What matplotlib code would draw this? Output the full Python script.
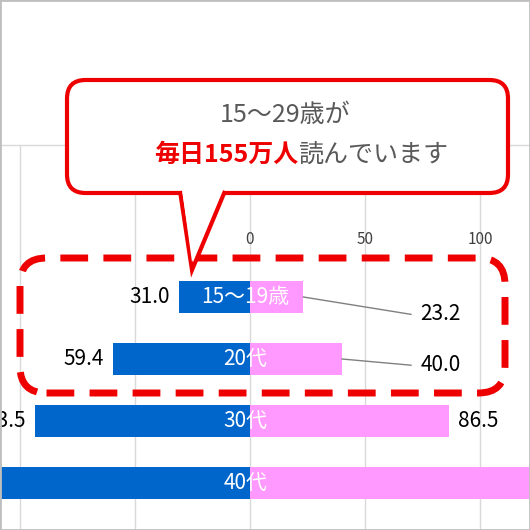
import matplotlib
matplotlib.use("Agg")
import matplotlib.pyplot as plt
from matplotlib.patches import FancyBboxPatch, Polygon

plt.rcParams['font.family'] = ['Noto Sans CJK JP', 'DejaVu Sans']

categories = ["15〜19歳", "20代", "30代", "40代"]
left_vals = [31.0, 59.4, 93.5, 120.0]
right_vals = [23.2, 40.0, 86.5, 130.0]
ticks = [0, 50, 100]

fig = plt.figure(figsize=(5.3, 5.3), dpi=100)
ax = fig.add_axes([0, 0, 1, 1])
ax.set_xlim(-250/2.3, 280/2.3)
ax.set_ylim((530-297)/62, -297/62)
ax.axis('off')

for g in [-100, -50, 0, 50, 100]:
    ax.plot([g, g], [-2.45, 3.8], color='#d9d9d9', lw=1, zorder=0)
ax.plot([-110, 125], [-2.45, -2.45], color='#d9d9d9', lw=1, zorder=0)
for t in ticks:
    ax.text(t, -0.92, str(t), ha='center', va='center', fontsize=11, color='#404040')

ys = list(range(len(categories)))
ax.barh(ys, [-v for v in left_vals], height=0.53, color='#0066cc', zorder=2)
ax.barh(ys, right_vals, height=0.53, color='#ff99ff', zorder=2)
for y, c in zip(ys, categories):
    ax.text(-2, y, c, ha='center', va='center', color='white', fontsize=15, zorder=3)

ax.text(-left_vals[0]-4, 0, f"{left_vals[0]:.1f}", ha='right', va='center', fontsize=15)
ax.text(-left_vals[1]-4, 1, f"{left_vals[1]:.1f}", ha='right', va='center', fontsize=15)
ax.text(-left_vals[2]-4, 2, f"{left_vals[2]:.1f}", ha='right', va='center', fontsize=15)
ax.text(right_vals[2]+4, 2, f"{right_vals[2]:.1f}", ha='left', va='center', fontsize=15)
ax.plot([right_vals[0], 70], [0, 0.28], color='#808080', lw=1, zorder=3)
ax.text(74, 0.28, f"{right_vals[0]:.1f}", ha='left', va='center', fontsize=15)
ax.plot([right_vals[1], 70], [1, 1.1], color='#808080', lw=1, zorder=3)
ax.text(74, 1.1, f"{right_vals[1]:.1f}", ha='left', va='center', fontsize=15)

ft = fig.transFigure
def fx(p): return p/530
def fy(p): return 1 - p/530
dash = FancyBboxPatch((fx(20), fy(393)), fx(485), 135/530,
                      boxstyle="round,pad=0,rounding_size=0.05", transform=ft,
                      fill=False, ec='#ee0000', lw=5, ls=(0, (4, 2.2)), zorder=5)
fig.patches.append(dash)

box = FancyBboxPatch((fx(67), fy(193)), fx(441), 113/530,
                     boxstyle="round,pad=0,rounding_size=0.035", transform=ft,
                     fc='white', ec='#ee0000', lw=3, zorder=6)
fig.patches.append(box)
ptr = Polygon([(fx(180), fy(191)), (fx(192), fy(270)), (fx(225), fy(191))],
              closed=False, transform=ft, fc='white', ec='#ee0000', lw=3, zorder=7)
fig.patches.append(ptr)
fig.patches.append(Polygon([(fx(182), fy(189)), (fx(192), fy(262)), (fx(223), fy(189))],
                           transform=ft, fc='white', ec='none', zorder=8))
fig.text(fx(285), fy(115), "15〜29歳が", ha='center', va='center', fontsize=18, color='#595959', zorder=9)
fig.text(fx(298), fy(155), "毎日155万人", ha='right', va='center', fontsize=18, color='#ee0000', weight='bold', zorder=9)
fig.text(fx(298), fy(155), "読んでいます", ha='left', va='center', fontsize=18, color='#595959', zorder=9)

fig.patches.append(plt.Rectangle((0, 0), 1, 1, transform=ft, fill=False, ec='#bfbfbf', lw=2, zorder=10))
fig.savefig("out.png", dpi=100)
